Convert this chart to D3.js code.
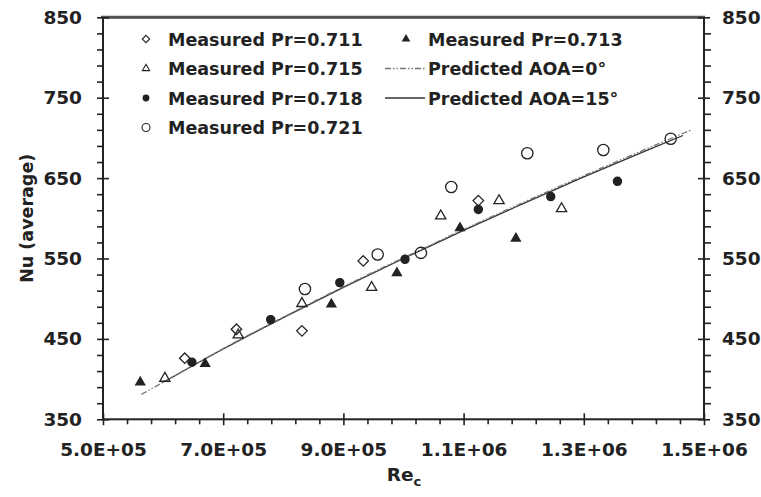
<!DOCTYPE html>
<html>
<head>
<meta charset="utf-8">
<script src="https://cdn.jsdelivr.net/npm/d3@7/dist/d3.min.js"></script>
<style>
  html, body { margin: 0; padding: 0; background: #fff; }
  svg { display: block; }
  text { font-family: "DejaVu Sans", sans-serif; font-weight: bold; fill: #222; }
</style>
</head>
<body>
<div id="chart"></div>
<script>
const re711 = [6.36e5, 7.22e5, 8.31e5, 9.33e5, 1.1245e6]
const nu711 = [426, 462, 460, 547, 622]

const re713 = [5.62e5, 6.70e5, 8.80e5, 9.89e5, 1.094e6, 1.187e6]
const nu713 = [396, 419, 493, 532, 588, 575]

const re715 = [6.03e5, 7.25e5, 8.31e5, 9.47e5, 1.062e6, 1.159e6, 1.263e6]
const nu715 = [401, 455, 494, 514, 603, 622, 612]

const re718 = [6.48e5, 7.79e5, 8.94e5, 1.0025e6, 1.1245e6, 1.245e6, 1.356e6]
const nu718 = [421, 474, 520, 549, 611, 627, 646]

const re721 = [8.36e5, 9.57e5, 1.029e6, 1.0795e6, 1.206e6, 1.3325e6, 1.4446e6]
const nu721 = [512, 555, 557, 639, 681, 685, 699]

// predicted curves
const reAoa0 = [5.64e5, 6.0e5, 7.0e5, 8.0e5, 9.0e5, 1.0e6, 1.1e6, 1.2e6, 1.3e6, 1.4e6, 1.479e6]
const nuAoa0 = [381, 396, 438, 477, 515, 551, 586, 620, 653, 685, 710]

const reAoa15 = [6.0e5, 7.0e5, 8.0e5, 9.0e5, 1.0e6, 1.1e6, 1.2e6, 1.3e6, 1.4e6, 1.465e6]
const nuAoa15 = [396, 437.5, 476.5, 514, 550, 585, 618.5, 651.5, 683, 703]

const xMajor = [5e5, 7e5, 9e5, 1.1e6, 1.3e6, 1.5e6]
const yMajor = [350, 450, 550, 650, 750, 850]

const W = 761, H = 497
const INK = "#222"

const svg = d3.select("#chart").append("svg")
  .attr("width", W)
  .attr("height", H)

const x = d3.scaleLinear().domain([5e5, 1.5e6]).range([103, 704])
const y = d3.scaleLinear().domain([350, 850]).range([419.3, 17.3])

const xMinor = d3.range(5e5, 1.5e6 + 1, 4e4).filter(v => !xMajor.some(m => Math.abs(m - v) < 1))
const yMinor = d3.range(350, 851, 20).filter(v => v % 100 !== 50)

function sciFmt(v) {
  const [m, e] = v.toExponential(1).split("e")
  const sign = e[0] === "-" ? "-" : "+"
  const digits = e.replace(/[+-]/, "").padStart(2, "0")
  return `${m}E${sign}${digits}`
}

function styleAxis(g) {
  g.select(".domain").remove()
  g.selectAll("line").attr("stroke", INK).attr("stroke-width", 1.6)
  g.selectAll("text").attr("font-size", "18.5px").attr("fill", INK)
}

// frame
svg.append("rect")
  .attr("x", x(5e5)).attr("y", y(850))
  .attr("width", x(1.5e6) - x(5e5)).attr("height", y(350) - y(850))
  .attr("fill", "none").attr("stroke", INK).attr("stroke-width", 2)
svg.append("line")
  .attr("x1", x(5e5) - 2).attr("x2", x(1.5e6) + 1)
  .attr("y1", y(850)).attr("y2", y(850))
  .attr("stroke", "#555").attr("stroke-width", 3)

// bottom axis
const bottom = y(350)
svg.append("g").attr("transform", `translate(0,${bottom})`)
  .call(d3.axisBottom(x).tickValues(xMajor).tickSize(6).tickPadding(18).tickFormat(sciFmt))
  .call(styleAxis)
svg.append("g").attr("transform", `translate(0,${bottom})`)
  .call(d3.axisTop(x).tickValues(xMajor).tickSize(6).tickFormat(""))
  .call(styleAxis)
svg.append("g").attr("transform", `translate(0,${bottom})`)
  .call(d3.axisBottom(x).tickValues(xMinor).tickSize(5).tickFormat(""))
  .call(styleAxis)

// left axis
const left = x(5e5)
svg.append("g").attr("transform", `translate(${left},0)`)
  .call(d3.axisLeft(y).tickValues(yMajor).tickSize(6).tickPadding(15).tickFormat(d3.format("d")))
  .call(styleAxis)
svg.append("g").attr("transform", `translate(${left},0)`)
  .call(d3.axisRight(y).tickValues(yMajor).tickSize(6).tickFormat(""))
  .call(styleAxis)
svg.append("g").attr("transform", `translate(${left},0)`)
  .call(d3.axisLeft(y).tickValues(yMinor).tickSize(6).tickFormat(""))
  .call(styleAxis)

// right axis
const right = x(1.5e6)
svg.append("g").attr("transform", `translate(${right},0)`)
  .call(d3.axisRight(y).tickValues(yMajor).tickSize(6).tickPadding(12).tickFormat(d3.format("d")))
  .call(styleAxis)
svg.append("g").attr("transform", `translate(${right},0)`)
  .call(d3.axisLeft(y).tickValues(yMajor).tickSize(6).tickFormat(""))
  .call(styleAxis)
svg.append("g").attr("transform", `translate(${right},0)`)
  .call(d3.axisRight(y).tickValues(yMinor).tickSize(7).tickFormat(""))
  .call(styleAxis)

// axis titles
svg.append("text")
  .attr("transform", `translate(33,${(y(350) + y(850)) / 2}) rotate(-90)`)
  .attr("text-anchor", "middle")
  .attr("font-size", "17.5px")
  .text("Nu (average)")

const xt = svg.append("text")
  .attr("x", 404).attr("y", 481)
  .attr("text-anchor", "middle")
  .attr("font-size", "18.5px")
xt.append("tspan").text("Re")
xt.append("tspan").attr("font-size", "13px").attr("dy", 5).text("c")

// predicted curves
const line = d3.line().x(d => x(d[0])).y(d => y(d[1])).curve(d3.curveMonotoneX)
const aoa0 = d3.zip(reAoa0, nuAoa0)
const aoa15 = d3.zip(reAoa15, nuAoa15)

svg.append("path").datum(aoa15)
  .attr("d", line)
  .attr("fill", "none").attr("stroke", "#333").attr("stroke-width", 1.3)
svg.append("path").datum(aoa0)
  .attr("d", line)
  .attr("fill", "none").attr("stroke", "#777").attr("stroke-width", 1.3)
  .attr("stroke-dasharray", "6,2,1.5,2,1.5,2")

// markers
const symDiamond = d3.symbol().type(d3.symbolDiamond2)
const symTri = d3.symbol().type(d3.symbolTriangle2)
const symCircle = d3.symbol().type(d3.symbolCircle)

const SERIES = [
  { re: re711, nu: nu711, sym: symDiamond, size: 70, fill: "#fff", label: "Measured Pr=0.711" },
  { re: re715, nu: nu715, sym: symTri, size: 75, fill: "#fff", label: "Measured Pr=0.715" },
  { re: re718, nu: nu718, sym: symCircle, size: 52, fill: INK, label: "Measured Pr=0.718" },
  { re: re721, nu: nu721, sym: symCircle, size: 100, fill: "#fff", label: "Measured Pr=0.721" },
  { re: re713, nu: nu713, sym: symTri, size: 58, fill: INK, label: "Measured Pr=0.713" },
]

SERIES.forEach(s => {
  svg.append("g")
    .selectAll("path")
    .data(d3.zip(s.re, s.nu))
    .join("path")
    .attr("transform", d => `translate(${x(d[0])},${y(d[1])})`)
    .attr("d", s.sym.size(s.size)())
    .attr("fill", s.fill === "#fff" ? "none" : s.fill)
    .attr("stroke", INK)
    .attr("stroke-width", 1.3)
})

// legend
const rowY = [39, 68.5, 98, 127.5]
const leg = svg.append("g")
SERIES.slice(0, 4).forEach((s, i) => {
  leg.append("path")
    .attr("transform", `translate(146,${rowY[i]})`)
    .attr("d", s.sym.size(s.size * 0.5)())
    .attr("fill", s.fill === "#fff" ? "none" : s.fill)
    .attr("stroke", INK).attr("stroke-width", 1.1)
  leg.append("text")
    .attr("x", 168).attr("y", rowY[i] + 6.5)
    .attr("font-size", "17.5px")
    .text(s.label)
})

const s713 = SERIES[4]
leg.append("path")
  .attr("transform", `translate(406,${rowY[0]})`)
  .attr("d", s713.sym.size(s713.size * 0.55)())
  .attr("fill", INK).attr("stroke", INK).attr("stroke-width", 1.1)
leg.append("text")
  .attr("x", 428).attr("y", rowY[0] + 6.5)
  .attr("font-size", "17.5px")
  .text(s713.label)

leg.append("line")
  .attr("x1", 385).attr("x2", 425).attr("y1", rowY[1]).attr("y2", rowY[1])
  .attr("stroke", "#777").attr("stroke-width", 1.5)
  .attr("stroke-dasharray", "6,2,1.5,2,1.5,2")
leg.append("text")
  .attr("x", 428).attr("y", rowY[1] + 6.5)
  .attr("font-size", "17.5px")
  .text("Predicted AOA=0°")

leg.append("line")
  .attr("x1", 385).attr("x2", 425).attr("y1", rowY[2]).attr("y2", rowY[2])
  .attr("stroke", "#333").attr("stroke-width", 1.5)
leg.append("text")
  .attr("x", 428).attr("y", rowY[2] + 6.5)
  .attr("font-size", "17.5px")
  .text("Predicted AOA=15°")
</script>
</body>
</html>
